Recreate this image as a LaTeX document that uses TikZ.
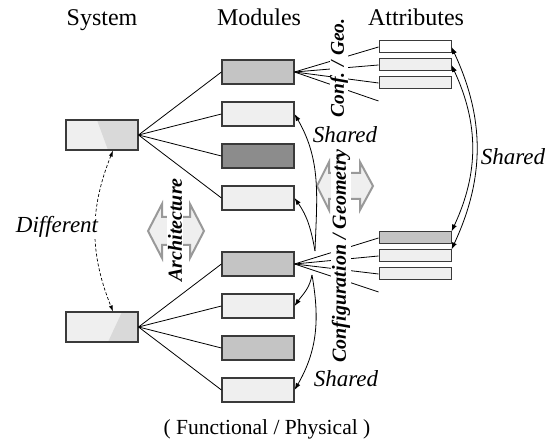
\documentclass[tikz,border=0pt]{standalone}
\usepackage{fontspec}
\setmainfont{Liberation Serif}
\usetikzlibrary{positioning, arrows.meta}

\definecolor{lite}{HTML}{EFEFEF}
\definecolor{mid}{HTML}{C4C4C4}
\definecolor{dark}{HTML}{8C8C8C}
\definecolor{wedge}{HTML}{D9D9D9}
\definecolor{rim}{HTML}{3A3A3A}

\tikzset{
  sys/.style={draw=rim, line width=1.1pt, fill=lite, minimum width=72pt, minimum height=30pt, inner sep=0pt},
  mod/.style={draw=rim, line width=1.1pt, minimum width=72pt, minimum height=24pt, inner sep=0pt},
  att/.style={draw=rim, line width=1pt, minimum width=72pt, minimum height=12pt, inner sep=0pt},
  head/.style={font=\fontsize{24}{28}\selectfont, anchor=base},
  tag/.style={font=\fontsize{23}{27}\selectfont\itshape, anchor=base},
  side/.style={font=\fontsize{20}{24}\selectfont\bfseries\itshape, rotate=90, fill=white, inner sep=0.5pt},
  bigarrow/.style={draw=black!40, line width=2pt, fill=lite, line join=miter},
  link/.style={line width=0.8pt},
  share/.style={line width=0.8pt, -{Latex[length=7pt,width=5pt]}},
  twoway/.style={line width=0.8pt, {Latex[length=7pt,width=5pt]}-{Latex[length=7pt,width=5pt]}},
}

\begin{document}
\begin{tikzpicture}[x=1pt, y=1pt, node distance=42pt, on grid]
\useasboundingbox (0,0) rectangle (555,441);

% column titles
\node[head] (hsys) at (102,415) {System};
\node[head] (hmod) at (259,415) {Modules};
\node[head] (hatt) at (416,415) {Attributes};

% the two systems
\node[sys, path picture={\fill[wedge] ([xshift=-5pt]path picture bounding box.north) -- (path picture bounding box.north east) -- (path picture bounding box.south east) -- ([xshift=6pt]path picture bounding box.south) -- cycle;}] (s1) at (102,306) {};
\node[sys, path picture={\fill[wedge] ([xshift=20pt]path picture bounding box.north) -- (path picture bounding box.north east) -- (path picture bounding box.south east) -- ([xshift=6pt]path picture bounding box.south) -- cycle;}] (s2) at (102,114) {};

% modules
\node[mod, fill=mid]  (m1) at (258,369) {};
\node[mod, fill=lite] (m2) [below=of m1] {};
\node[mod, fill=dark] (m3) [below=of m2] {};
\node[mod, fill=lite] (m4) [below=of m3] {};
\node[mod, fill=mid]  (m5) at (258,177) {};
\node[mod, fill=lite] (m6) [below=of m5] {};
\node[mod, fill=mid]  (m7) [below=of m6] {};
\node[mod, fill=lite] (m8) [below=of m7] {};

% attributes
\node[att, fill=white] (a1) at (415,394) {};
\node[att, fill=lite]  (a2) [below=18pt of a1] {};
\node[att, fill=lite]  (a3) [below=18pt of a2] {};
\coordinate (a4) at ([yshift=-18pt]a3.west);
\node[att, fill=mid]   (b1) at (415,203) {};
\node[att, fill=lite]  (b2) [below=18pt of b1] {};
\node[att, fill=lite]  (b3) [below=18pt of b2] {};
\coordinate (b4) at ([yshift=-18pt]b3.west);

% block arrows
\draw[bigarrow, shift={(176,210)}] (-28,0) -- (-14,27) -- (-14,14) -- (14,14) -- (14,27) -- (28,0)
  -- (14,-27) -- (14,-14) -- (-14,-14) -- (-14,-27) -- cycle;
\draw[bigarrow, shift={(345,255)}] (-28,0) -- (-16,24) -- (-16,13) -- (15,13) -- (15,24) -- (28,0)
  -- (15,-24) -- (15,-13) -- (-16,-13) -- (-16,-24) -- cycle;

% tree links
\foreach \m in {m1,m2,m3,m4} \draw[link] (s1.east) -- (\m.west);
\foreach \m in {m5,m6,m7,m8} \draw[link] (s2.east) -- (\m.west);
\foreach \a in {a1,a2,a3} \draw[link] (m1.east) -- (\a.west);
\draw[link] (m1.east) -- (a4);
\foreach \a in {b1,b2,b3} \draw[link] (m5.east) -- (\a.west);
\draw[link] (m5.east) -- (b4);

% rotated labels
\node[side] (arch) at (175,211) {Architecture};
\node[side, font=\fontsize{19.5}{23}\selectfont\bfseries\itshape] (conf) at (339,373) {Conf. / Geo.};
\node[side] (cfg) at (341,185) {Configuration / Geometry};

% shared modules
\coordinate (hubup) at (315,190);
\coordinate (hubdn) at (312,166);
\draw[share] (hubup) to[out=88, in=-60] (m2.east);
\draw[share] (hubup) to[out=100, in=-55] (m4.east);
\draw[share] (hubdn) to[out=-100, in=55] (m6.east);
\draw[share] (hubdn) to[out=-80, in=60] (m8.east);

% shared attributes
\draw[twoway] (a1.east) to[out=-65, in=65] (b2.north east);
\draw[twoway] (a2.east) to[out=-65, in=65] (b1.north east);

% different systems
\draw[densely dashed, line width=0.7pt, {Latex[length=6pt,width=4pt]}-{Latex[length=6pt,width=4pt]}]
  ([xshift=11pt]s1.south) to[bend right=22] ([xshift=11pt]s2.north);

\node[tag] (shup) at (345,298) {Shared};
\node[tag] (shdn) at (346,54) {Shared};
\node[tag] (shr) at (513,276) {Shared};
\node[tag, fill=white, inner sep=1pt] (diff) at (57,208) {Different};

\node[font=\fontsize{21.5}{26}\selectfont, anchor=base] (foot) at (267,6) {( Functional / Physical )};
\end{tikzpicture}
\end{document}
